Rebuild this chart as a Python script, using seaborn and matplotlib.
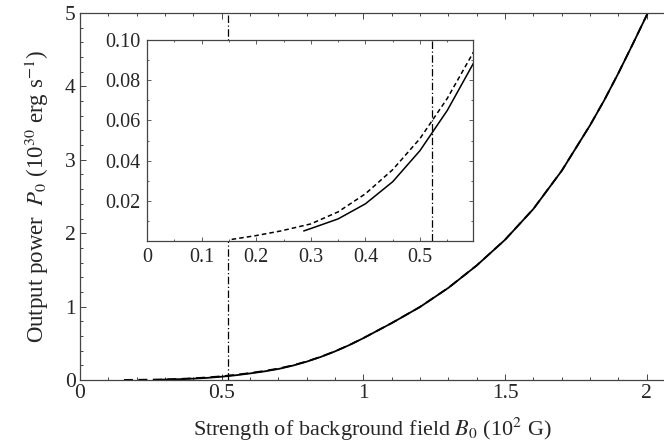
import numpy as np
import pandas as pd
import matplotlib
matplotlib.use("Agg")
import matplotlib.pyplot as plt
from matplotlib.ticker import MultipleLocator, FixedLocator, FormatStrFormatter
import seaborn as sns

# solid curve, B0 in 10^2 G, P0 in 10^30 erg/s
solid_b = [0.287, 0.30, 0.35, 0.40, 0.45, 0.50, 0.55, 0.60, 0.65, 0.70, 0.75,
           0.80, 0.85, 0.90, 0.95, 1.0, 1.1, 1.2, 1.3, 1.4, 1.5, 1.6, 1.7,
           1.8, 1.85, 1.9, 1.95, 2.0, 2.01]
solid_p = [0.0050, 0.0062, 0.0110, 0.0185, 0.0295, 0.0450, 0.0650, 0.0895,
           0.117, 0.150, 0.195, 0.250, 0.315, 0.390, 0.475, 0.570, 0.775,
           0.995, 1.255, 1.560, 1.910, 2.330, 2.850, 3.470, 3.810, 4.180,
           4.570, 4.970, 5.050]

# dashed curve
dash_b = [0.155, 0.20, 0.245, 0.30, 0.35, 0.40, 0.45, 0.50, 0.55, 0.60, 0.65,
          0.70, 0.75, 0.80, 0.85, 0.90, 0.95, 1.0, 1.1, 1.2, 1.3, 1.4, 1.5,
          1.6, 1.7, 1.8, 1.85, 1.9, 1.95, 2.0, 2.01]
dash_p = [0.0008, 0.0027, 0.0050, 0.0085, 0.0145, 0.0235, 0.0355, 0.0510,
          0.0710, 0.0950, 0.123, 0.156, 0.199, 0.253, 0.317, 0.391, 0.476,
          0.571, 0.776, 0.996, 1.256, 1.561, 1.911, 2.331, 2.851, 3.471,
          3.811, 4.181, 4.571, 4.971, 5.051]

b_mark = 0.522  # vertical marker

main_xticks = [0, 0.5, 1, 1.5, 2]
main_xlabels = ["0", "0.5", "1", "1.5", "2"]
main_yticks = [0, 1, 2, 3, 4, 5]
inset_xticks = [0, 0.1, 0.2, 0.3, 0.4, 0.5]
inset_yticks = [0.02, 0.04, 0.06, 0.08, 0.10]

df_solid = pd.DataFrame({"B": solid_b, "P": solid_p})
df_dash = pd.DataFrame({"B": dash_b, "P": dash_p})

sns.set_style("ticks")
plt.rcParams["font.family"] = ["Liberation Serif", "DejaVu Serif"]
plt.rcParams["mathtext.fontset"] = "stix"
plt.rcParams["axes.edgecolor"] = "#444444"

fig = plt.figure(figsize=(6.64, 4.45), dpi=100)
ax = fig.add_axes([80 / 664, 65 / 445, 584 / 664, 367 / 445])

ax.axvline(b_mark, color="black", lw=0.9, ls=(0, (6, 2, 1, 2)))
sns.lineplot(data=df_solid, x="B", y="P", ax=ax, color="black", lw=1.3,
             sort=False, estimator=None)
sns.lineplot(data=df_dash, x="B", y="P", ax=ax, color="black", lw=1.3,
             ls=(0, (5, 3)), sort=False, estimator=None)

ax.set_xlim(0, 2.061)
ax.set_ylim(0, 5)
ax.xaxis.set_major_locator(FixedLocator(main_xticks))
ax.set_xticklabels(main_xlabels)
ax.yaxis.set_major_locator(FixedLocator(main_yticks))
ax.xaxis.set_minor_locator(MultipleLocator(0.1))
ax.yaxis.set_minor_locator(MultipleLocator(0.2))
ax.tick_params(which="both", direction="in", top=True, right=False,
               labelsize=15.5, width=0.7, color="#444444")
ax.tick_params(which="major", length=4, pad=3)
ax.tick_params(which="minor", length=2)
ax.spines["right"].set_visible(False)
for s in ax.spines.values():
    s.set_linewidth(0.9)

ax.set_xlabel(r"Strength of background field $B_0$ (10$^2$ G)", fontsize=16,
              labelpad=9)
ax.set_ylabel(r"Output power  $P_0$ (10$^{30}$ erg s$^{-1}$)", fontsize=16.5,
              labelpad=10)

# inset
ins = fig.add_axes([147 / 664, 204 / 445, 326 / 664, 201 / 445])
ins.set_facecolor("white")
ins.axvline(b_mark, color="black", lw=0.9, ls=(0, (6, 2, 1, 2)))
sns.lineplot(data=df_solid, x="B", y="P", ax=ins, color="black", lw=1.1,
             sort=False, estimator=None)
sns.lineplot(data=df_dash, x="B", y="P", ax=ins, color="black", lw=1.1,
             ls=(0, (3, 2)), sort=False, estimator=None)
ins.set_xlim(0, 0.597)
ins.set_ylim(0, 0.10)
ins.xaxis.set_major_locator(FixedLocator(inset_xticks))
ins.yaxis.set_major_locator(FixedLocator(inset_yticks))
ins.xaxis.set_major_formatter(FormatStrFormatter("%g"))
ins.yaxis.set_major_formatter(FormatStrFormatter("%.2f"))
ins.xaxis.set_minor_locator(MultipleLocator(0.05))
ins.yaxis.set_minor_locator(MultipleLocator(0.01))
ins.tick_params(which="both", direction="in", top=True, right=True,
                labelsize=14.5, width=0.6, color="#444444")
ins.tick_params(which="major", length=3, pad=5)
ins.tick_params(which="minor", length=1.5)
ins.set_xlabel("")
ins.set_ylabel("")
for s in ins.spines.values():
    s.set_linewidth(0.9)

fig.savefig("out.png", dpi=100)
